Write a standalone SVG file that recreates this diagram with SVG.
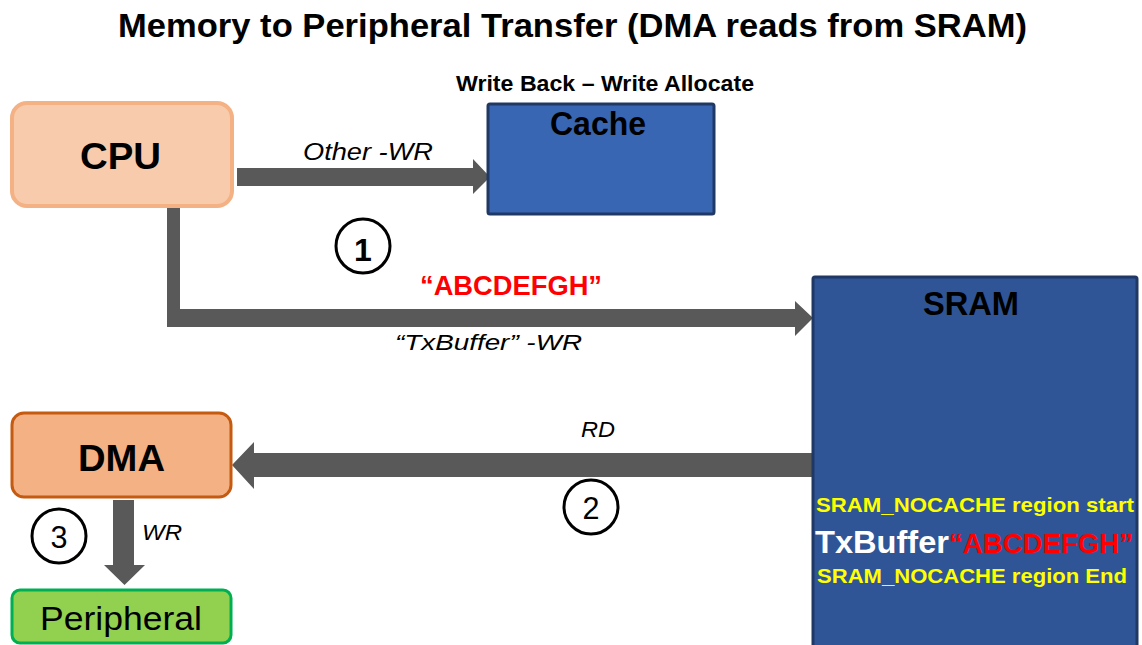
<svg xmlns="http://www.w3.org/2000/svg" width="1142" height="645" viewBox="0 0 1142 645">
<style>
.sans{font-family:"Liberation Sans",Arial,sans-serif}
.b{font-weight:bold}
.i{font-style:italic}
.arrow{fill:#595959}
.step{fill:#ffffff;stroke:#000000;stroke-width:3}
</style>
<rect width="1142" height="645" fill="#ffffff"/>
<text class="sans b" x="118" y="37" font-size="33" textLength="909" lengthAdjust="spacingAndGlyphs">Memory to Peripheral Transfer (DMA reads from SRAM)</text>

<g id="connectors">
  <path class="arrow" d="M237,168 H473 V159 L490,177 L473,194 V186 H237 Z"/>
  <path class="arrow" d="M167,206 H180 V309 H795 V301 L813,318 L795,336 V327 H167 Z"/>
  <path class="arrow" d="M812,453 H254 V442 L232,465 L254,489 V477 H812 Z"/>
  <path class="arrow" d="M113,500 H134 V565 H145 L124.5,585 L104,565 H113 Z"/>
  <text class="sans i" x="303" y="160" font-size="23" textLength="130" lengthAdjust="spacingAndGlyphs">Other -WR</text>
  <text class="sans b" x="420" y="295" font-size="28" fill="#ff0000" textLength="182" lengthAdjust="spacingAndGlyphs">“ABCDEFGH”</text>
  <text class="sans i" x="395" y="350" font-size="22" textLength="187" lengthAdjust="spacingAndGlyphs">“TxBuffer” -WR</text>
  <text class="sans i" x="581" y="437" font-size="22" textLength="34" lengthAdjust="spacingAndGlyphs">RD</text>
  <text class="sans i" x="142" y="540" font-size="22" textLength="40" lengthAdjust="spacingAndGlyphs">WR</text>
</g>

<g id="step1">
  <circle class="step" cx="363" cy="246" r="27"/>
  <text class="sans b" x="363" y="261" font-size="32" text-anchor="middle">1</text>
</g>
<g id="step2">
  <circle class="step" cx="591" cy="507" r="27"/>
  <text class="sans" x="591" y="519" font-size="32" text-anchor="middle" textLength="17" lengthAdjust="spacingAndGlyphs">2</text>
</g>
<g id="step3">
  <circle class="step" cx="59" cy="536" r="27"/>
  <text class="sans" x="59" y="548" font-size="32" text-anchor="middle" textLength="17" lengthAdjust="spacingAndGlyphs">3</text>
</g>

<g id="cpu">
  <rect x="12" y="103" width="220" height="103" rx="15" fill="#F8CBAD" stroke="#F4B183" stroke-width="4"/>
  <text class="sans b" x="80" y="169" font-size="37" textLength="81" lengthAdjust="spacingAndGlyphs">CPU</text>
</g>

<g id="cache">
  <text class="sans b" x="456" y="91" font-size="22" textLength="298" lengthAdjust="spacingAndGlyphs">Write Back – Write Allocate</text>
  <rect x="488" y="104" width="226" height="110" rx="2" fill="#3866B2" stroke="#203864" stroke-width="3"/>
  <text class="sans b" x="550" y="135" font-size="34" textLength="96" lengthAdjust="spacingAndGlyphs">Cache</text>
</g>

<g id="sram">
  <rect x="813" y="277" width="324" height="380" rx="2" fill="#2F5597" stroke="#1F3864" stroke-width="3"/>
  <text class="sans b" x="923" y="315" font-size="33" textLength="96" lengthAdjust="spacingAndGlyphs">SRAM</text>
  <text class="sans b" x="816" y="512" font-size="21" fill="#FFFF00" textLength="318" lengthAdjust="spacingAndGlyphs">SRAM_NOCACHE region start</text>
  <text class="sans b" x="815" y="553" font-size="31" fill="#ffffff" textLength="134" lengthAdjust="spacingAndGlyphs">TxBuffer</text>
  <text class="sans b" x="949" y="553" font-size="28" fill="#ff0000" textLength="184" lengthAdjust="spacingAndGlyphs">“ABCDEFGH”</text>
  <text class="sans b" x="817" y="583" font-size="21" fill="#FFFF00" textLength="310" lengthAdjust="spacingAndGlyphs">SRAM_NOCACHE region End</text>
</g>

<g id="dma">
  <rect x="12" y="413" width="219" height="84" rx="12" fill="#F4B183" stroke="#C55A11" stroke-width="3"/>
  <text class="sans b" x="78" y="471" font-size="36" textLength="87" lengthAdjust="spacingAndGlyphs">DMA</text>
</g>

<g id="peripheral">
  <rect x="12" y="590" width="219" height="53" rx="8" fill="#92D050" stroke="#00B050" stroke-width="3"/>
  <text class="sans" x="40" y="630" font-size="33" textLength="162" lengthAdjust="spacingAndGlyphs">Peripheral</text>
</g>
</svg>
